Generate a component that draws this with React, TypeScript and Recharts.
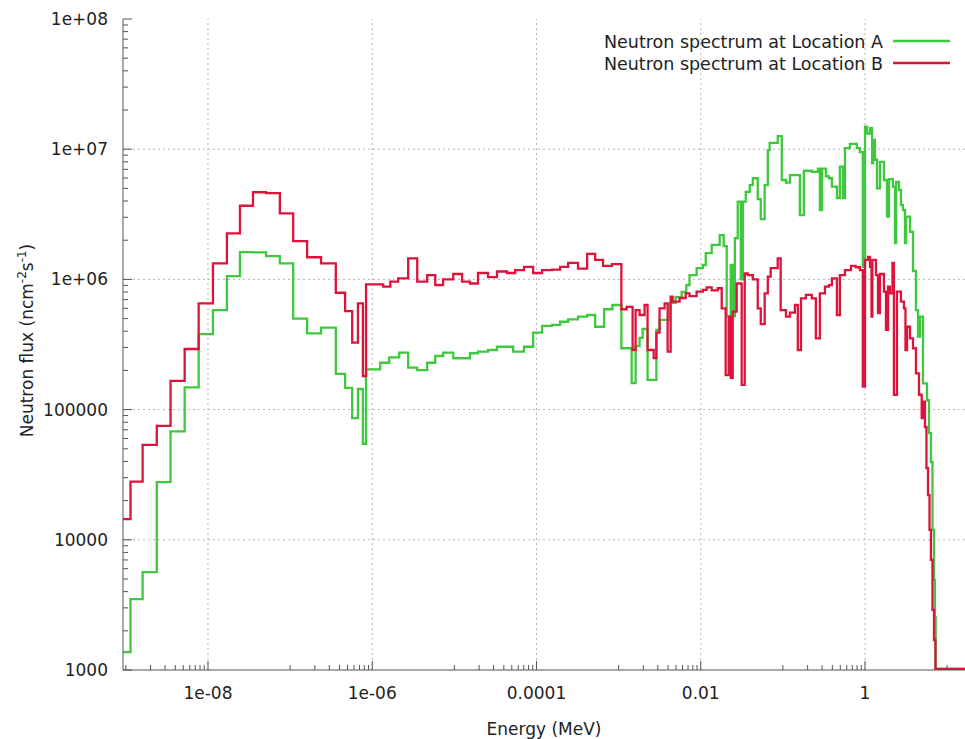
import React from "react";
import { LineChart, Line, XAxis, YAxis, ReferenceLine, Legend } from "recharts";

// bin start energies (MeV) and flux per bin
const energyA = [
  9.23e-10, 1.14e-9, 1.6e-9, 2.38e-9, 3.5e-9, 5.2e-9, 7.7e-9, 1.15e-8, 1.7e-8, 2.45e-8,
  3.53e-8, 5.1e-8, 7.5e-8, 1.09e-7, 1.61e-7, 2.38e-7, 3.6e-7, 4.67e-7, 5.7e-7, 6.7e-7,
  7.7e-7, 8.4e-7, 1.25e-6, 1.61e-6, 2.13e-6, 2.74e-6, 3.53e-6, 4.67e-6, 5.85e-6, 7.3e-6,
  9.7e-6, 1.55e-5, 1.94e-5, 2.57e-5, 3.3e-5, 5.2e-5, 7.05e-5, 9.1e-5, 1.17e-4, 1.55e-4,
  1.94e-4, 2.43e-4, 3.2e-4, 4.14e-4, 5.18e-4, 6.66e-4, 8.4e-4, 1.08e-3, 1.44e-3, 1.61e-3,
  1.8e-3, 1.96e-3, 2.25e-3, 2.88e-3, 3.15e-3, 4.18e-3, 4.94e-3, 5.85e-3, 6.67e-3, 7.3e-3,
  8.9e-3, 1.06e-2, 1.15e-2, 1.36e-2, 1.7e-2, 1.9e-2, 2.07e-2, 2.32e-2, 2.45e-2, 2.6e-2,
  2.82e-2, 3.07e-2, 3.25e-2, 3.53e-2, 3.95e-2, 4.3e-2, 4.94e-2, 5.38e-2, 6.0e-2, 6.55e-2,
  6.9e-2, 8.65e-2, 9.7e-2, 0.109, 0.122, 0.161, 0.18, 0.225, 0.267, 0.282,
  0.3, 0.334, 0.363, 0.395, 0.455, 0.494, 0.538, 0.57, 0.655, 0.795,
  0.865, 0.94, 1.0, 1.06, 1.15, 1.22, 1.25, 1.32, 1.4, 1.52,
  1.7, 1.85, 1.96, 2.19, 2.32, 2.39, 2.59, 2.74, 2.9, 3.07,
  3.16, 3.53, 3.84, 4.17, 4.42, 4.67, 5.08, 5.69, 6.01, 6.35,
  6.63, 6.92, 7.1, 7.25, 16.5,
];
const fluxA = [
  1.37e3, 3.5e3, 5.65e3, 2.77e4, 6.8e4, 1.48e5, 3.8e5, 5.8e5, 1.06e6, 1.62e6,
  1.61e6, 1.51e6, 1.33e6, 5.0e5, 3.85e5, 4.26e5, 1.88e5, 1.47e5, 8.6e4, 1.44e5,
  5.45e4, 2.04e5, 2.29e5, 2.52e5, 2.74e5, 2.1e5, 2.01e5, 2.29e5, 2.58e5, 2.74e5,
  2.48e5, 2.71e5, 2.79e5, 2.87e5, 3.04e5, 2.79e5, 3.04e5, 3.9e5, 4.39e5, 4.47e5,
  4.73e5, 4.94e5, 5.17e5, 5.33e5, 4.33e5, 5.9e5, 6.36e5, 2.96e5, 1.6e5, 3.08e5,
  3.55e5, 4.16e5, 1.69e5, 4.09e5, 4.88e5, 6.6e5, 7.3e5, 8.0e5, 9.05e5, 1.08e6,
  1.22e6, 1.29e6, 1.59e6, 1.84e6, 2.19e6, 1.8e6, 5.2e5, 1.29e6, 5.2e5, 2.07e6,
  3.95e6, 1.0e6, 3.95e6, 4.7e6, 5.3e6, 5.98e6, 4.13e6, 2.9e6, 5.3e6, 9.85e6,
  1.12e7, 1.26e7, 5.8e6, 5.53e6, 6.33e6, 3.12e6, 6.83e6, 6.7e6, 7.1e6, 3.41e6,
  7.1e6, 6.2e6, 5.98e6, 5.15e6, 4.22e6, 7.34e6, 4.22e6, 1.02e7, 1.1e7, 1.02e7,
  9.5e6, 1.25e6, 1.49e7, 1.32e7, 1.45e7, 7.8e6, 1.18e7, 8.3e6, 5.0e6, 8.0e6,
  5.8e6, 3.03e6, 5.9e6, 5.15e6, 1.9e6, 5.6e6, 4.86e6, 3.73e6, 3.41e6, 1.9e6,
  3.03e6, 2.32e6, 1.16e6, 5.8e5, 3.63e5, 5.17e5, 1.59e5, 1.18e5, 6.6e4, 3.96e4,
  1.19e4, 4.9e3, 2.55e3, 1.02e3, 1.02e3,
];

const energyB = [
  9.23e-10, 1.14e-9, 1.6e-9, 2.38e-9, 3.5e-9, 5.2e-9, 7.7e-9, 1.15e-8, 1.7e-8, 2.45e-8,
  3.53e-8, 5.1e-8, 7.5e-8, 1.09e-7, 1.61e-7, 2.38e-7, 3.6e-7, 4.67e-7, 5.7e-7, 6.7e-7,
  7.7e-7, 8.4e-7, 1.36e-6, 1.66e-6, 2.07e-6, 2.74e-6, 3.53e-6, 4.67e-6, 5.85e-6, 7.3e-6,
  9.7e-6, 1.24e-5, 1.55e-5, 1.94e-5, 2.57e-5, 3.3e-5, 4.38e-5, 5.5e-5, 7.05e-5, 9.1e-5,
  1.17e-4, 1.55e-4, 1.94e-4, 2.43e-4, 3.2e-4, 4.14e-4, 5.18e-4, 6.46e-4, 8.3e-4, 1.08e-3,
  1.25e-3, 1.48e-3, 1.61e-3, 1.8e-3, 2.07e-3, 2.25e-3, 2.67e-3, 2.88e-3, 3.15e-3, 3.63e-3,
  3.95e-3, 4.3e-3, 4.55e-3, 5.53e-3, 6.55e-3, 7.3e-3, 8.9e-3, 1.06e-2, 1.18e-2, 1.36e-2,
  1.61e-2, 1.8e-2, 2.01e-2, 2.19e-2, 2.32e-2, 2.45e-2, 2.74e-2, 3.15e-2, 3.43e-2, 3.73e-2,
  4.3e-2, 4.94e-2, 5.38e-2, 6.0e-2, 6.55e-2, 7.1e-2, 8.65e-2, 9.4e-2, 0.109, 0.122,
  0.14, 0.152, 0.166, 0.191, 0.225, 0.252, 0.282, 0.325, 0.363, 0.395,
  0.455, 0.494, 0.57, 0.675, 0.77, 0.865, 0.94, 1.0, 1.09, 1.15,
  1.2, 1.23, 1.36, 1.44, 1.52, 1.7, 1.8, 1.91, 2.01, 2.16,
  2.25, 2.45, 2.74, 2.98, 3.11, 3.25, 3.53, 3.84, 4.17, 4.54,
  4.9, 5.08, 5.37, 5.6, 5.85, 6.1, 6.35, 6.63, 6.92, 7.2,
  7.35, 16.5,
];
const fluxB = [
  1.44e4, 2.8e4, 5.35e4, 7.5e4, 1.66e5, 2.92e5, 6.55e5, 1.33e6, 2.26e6, 3.68e6,
  4.67e6, 4.6e6, 3.22e6, 1.97e6, 1.48e6, 1.33e6, 7.9e5, 5.7e5, 3.27e5, 6.55e5,
  1.81e5, 9.17e5, 8.8e5, 9.6e5, 1.02e6, 1.45e6, 9.6e5, 1.08e6, 9.06e5, 1.0e6,
  1.1e6, 9.6e5, 9.3e5, 1.12e6, 1.04e6, 1.15e6, 1.12e6, 1.18e6, 1.25e6, 1.12e6,
  1.18e6, 1.19e6, 1.25e6, 1.34e6, 1.21e6, 1.57e6, 1.41e6, 1.27e6, 1.31e6, 5.9e5,
  6.15e5, 2.87e5, 5.8e5, 5.33e5, 6.36e5, 2.87e5, 2.49e5, 3.9e5, 6.0e5, 6.55e5,
  2.79e5, 7.36e5, 6.75e5, 7.2e5, 7.8e5, 7.45e5, 8.05e5, 8.3e5, 8.7e5, 8.25e5,
  8.55e5, 6.0e5, 1.84e5, 5.17e5, 1.75e5, 5.65e5, 9.3e5, 1.55e5, 1.11e6, 1.08e6,
  1.0e6, 6.0e5, 4.54e5, 7.8e5, 1.05e6, 1.22e6, 1.45e6, 5.8e5, 5.17e5, 5.55e5,
  6.36e5, 2.87e5, 7.16e5, 7.6e5, 7.16e5, 3.53e5, 7.8e5, 8.8e5, 9.05e5, 1.02e6,
  5.33e5, 1.08e6, 1.18e6, 1.27e6, 1.24e6, 1.18e6, 1.5e5, 1.41e6, 1.49e6, 1.25e6,
  5.17e5, 1.41e6, 1.08e6, 5.5e5, 1.1e6, 8.05e5, 4.09e5, 8.8e5, 7.8e5, 1.34e6,
  1.3e5, 8.05e5, 6.75e5, 6.0e5, 2.87e5, 4.33e5, 3.53e5, 2.96e5, 1.9e5, 1.3e5,
  8.6e4, 1.15e5, 7.35e4, 3.56e4, 2.2e4, 1.19e4, 7.0e3, 2.9e3, 1.7e3, 1.02e3,
  1.02e3, 1.02e3,
];

const seriesNames = ["Neutron spectrum at Location A", "Neutron spectrum at Location B"];
const seriesColors = ["#3ec83e", "#dc143c"];

const xMajorTicks = [1e-8, 1e-6, 1e-4, 1e-2, 1];
const xTickLabels = ["1e-08", "1e-06", "0.0001", "0.01", "1"];
const yMajorTicks = [1e3, 1e4, 1e5, 1e6, 1e7, 1e8];
const yTickLabels = ["1000", "10000", "100000", "1e+06", "1e+07", "1e+08"];

const X_DOMAIN: [number, number] = [9.23e-10, 16.5];
const Y_DOMAIN: [number, number] = [1e3, 1e8];

// gnuplot-style minor tics: x axis uses base-100 decades, y axis base 10
const xMinorTicks: number[] = [];
[1e-10, 1e-8, 1e-6, 1e-4, 1e-2, 1].forEach((m) => {
  for (let k = 1; k <= 9; k++) {
    const v = m * 10 * k;
    if (v >= X_DOMAIN[0] && v <= X_DOMAIN[1]) xMinorTicks.push(v);
  }
});
const yMinorTicks: number[] = [];
[1e3, 1e4, 1e5, 1e6, 1e7].forEach((d) => {
  for (let k = 2; k <= 9; k++) yMinorTicks.push(d * k);
});
const xTicks = [...xMajorTicks, ...xMinorTicks].sort((a, b) => a - b);
const yTicks = [...yMajorTicks, ...yMinorTicks].sort((a, b) => a - b);

const dataA = energyA.map((e, i) => ({ energy: e, flux: fluxA[i] }));
const dataB = energyB.map((e, i) => ({ energy: e, flux: fluxB[i] }));

const FONT = "'DejaVu Sans', sans-serif";
const AXIS = "#555";
const GRID = "#b4b4b4";
const TEXT = "#222";
const MAJOR = 9;
const MINOR = 5;

const isMajor = (list: number[], v: number) => list.findIndex((t) => Math.abs(t / v - 1) < 1e-6);

const BottomTick = (props: any) => {
  const { x, y, payload } = props;
  const i = isMajor(xMajorTicks, payload.value);
  return (
    <g>
      <line x1={x} x2={x} y1={y} y2={y - (i >= 0 ? MAJOR : MINOR)} stroke={AXIS} />
      {i >= 0 && (
        <text x={x} y={y + 29} textAnchor="middle" fontFamily={FONT} fontSize={17} fill={TEXT}>
          {xTickLabels[i]}
        </text>
      )}
    </g>
  );
};

const TopTick = (props: any) => {
  const { x, y, payload } = props;
  const i = isMajor(xMajorTicks, payload.value);
  return <line x1={x} x2={x} y1={y} y2={y + (i >= 0 ? MAJOR : MINOR)} stroke={AXIS} />;
};

const LeftTick = (props: any) => {
  const { x, y, payload } = props;
  const i = isMajor(yMajorTicks, payload.value);
  return (
    <g>
      <line x1={x} x2={x + (i >= 0 ? MAJOR : MINOR)} y1={y} y2={y} stroke={AXIS} />
      {i >= 0 && (
        <text x={x - 15} y={y + 6} textAnchor="end" fontFamily={FONT} fontSize={17} fill={TEXT}>
          {yTickLabels[i]}
        </text>
      )}
    </g>
  );
};

const RightTick = (props: any) => {
  const { x, y, payload } = props;
  const i = isMajor(yMajorTicks, payload.value);
  return <line x1={x} x2={x - (i >= 0 ? MAJOR : MINOR)} y1={y} y2={y} stroke={AXIS} />;
};

const YTitle = (props: any) => {
  const { viewBox } = props;
  const cy = viewBox.y + viewBox.height / 2 - 4;
  return (
    <text
      transform={`translate(33, ${cy}) rotate(-90)`}
      textAnchor="middle"
      fontFamily={FONT}
      fontSize={17}
      fill={TEXT}
    >
      Neutron flux (ncm
      <tspan dy={-7} fontSize={12}>-2</tspan>
      <tspan dy={7}>s</tspan>
      <tspan dy={-7} fontSize={12}>-1</tspan>
      <tspan dy={7}>)</tspan>
    </text>
  );
};

const XTitle = (props: any) => {
  const { viewBox } = props;
  return (
    <text
      x={viewBox.x + viewBox.width / 2}
      y={viewBox.y + 65}
      textAnchor="middle"
      fontFamily={FONT}
      fontSize={17}
      fill={TEXT}
    >
      Energy (MeV)
    </text>
  );
};

const LegendBox = () => (
  <svg width={965} height={50} style={{ display: "block" }}>
    {seriesNames.map((name, i) => (
      <g key={name}>
        <text x={883} y={18 + i * 22} textAnchor="end" fontFamily={FONT} fontSize={17.5} fill={TEXT}>
          {name}
        </text>
        <line x1={893} x2={950} y1={11 + i * 22} y2={11 + i * 22} stroke={seriesColors[i]} strokeWidth={2.4} />
      </g>
    ))}
  </svg>
);

export default function App() {
  return (
    <div style={{ position: "absolute", left: 0, top: 0, background: "#fff" }}>
      <LineChart width={965} height={739} margin={{ top: 19, right: 0, bottom: 0, left: 0 }}>
        <XAxis
          dataKey="energy"
          type="number"
          scale="log"
          domain={X_DOMAIN}
          allowDataOverflow
          ticks={xTicks}
          interval={0}
          tickSize={0}
          tickMargin={0}
          tickLine={false}
          tick={<BottomTick />}
          height={69}
          axisLine={{ stroke: AXIS }}
          label={<XTitle />}
        />
        <XAxis
          xAxisId="top"
          orientation="top"
          type="number"
          scale="log"
          domain={X_DOMAIN}
          allowDataOverflow
          ticks={xTicks}
          interval={0}
          tickSize={0}
          tickMargin={0}
          tickLine={false}
          tick={<TopTick />}
          height={0}
          axisLine={{ stroke: AXIS }}
        />
        <YAxis
          type="number"
          scale="log"
          domain={Y_DOMAIN}
          allowDataOverflow
          ticks={yTicks}
          interval={0}
          tickSize={0}
          tickMargin={0}
          tickLine={false}
          tick={<LeftTick />}
          width={123}
          axisLine={{ stroke: AXIS }}
          label={<YTitle />}
        />
        <YAxis
          yAxisId="right"
          orientation="right"
          type="number"
          scale="log"
          domain={Y_DOMAIN}
          allowDataOverflow
          ticks={yTicks}
          interval={0}
          tickSize={0}
          tickMargin={0}
          tickLine={false}
          tick={<RightTick />}
          width={0}
          axisLine={{ stroke: AXIS }}
        />
        {xMajorTicks.map((v) => (
          <ReferenceLine key={`gx${v}`} x={v} stroke={GRID} strokeDasharray="2 3" />
        ))}
        {yMajorTicks.slice(1, -1).map((v) => (
          <ReferenceLine key={`gy${v}`} y={v} stroke={GRID} strokeDasharray="2 3" />
        ))}
        <Line
          data={dataA}
          dataKey="flux"
          name={seriesNames[0]}
          type="stepAfter"
          stroke={seriesColors[0]}
          strokeWidth={2.3}
          dot={false}
          isAnimationActive={false}
        />
        <Line
          data={dataB}
          dataKey="flux"
          name={seriesNames[1]}
          type="stepAfter"
          stroke={seriesColors[1]}
          strokeWidth={2.3}
          dot={false}
          isAnimationActive={false}
        />
        <Legend
          layout="horizontal"
          verticalAlign="middle"
          align="center"
          wrapperStyle={{ top: 30, left: 0, width: 965, height: 50 }}
          content={<LegendBox />}
        />
      </LineChart>
    </div>
  );
}
